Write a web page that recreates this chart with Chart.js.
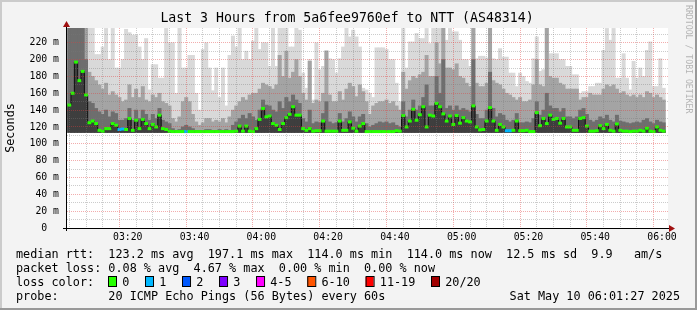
<!DOCTYPE html>
<html>
<head>
<meta charset="utf-8">
<title>Last 3 Hours from 5a6fee9760ef to NTT (AS48314)</title>
<script src="https://cdn.jsdelivr.net/npm/chart.js@4.4.1/dist/chart.umd.min.js"></script>
<style>
  html, body { margin: 0; padding: 0; background: #f3f3f3; }
  #wrap { width: 697px; height: 310px; }
</style>
</head>
<body>
<div id="wrap"><canvas id="smoke" width="697" height="310"></canvas></div>
<script>
// one column per 60s step, first step starts 03:02
const FIRST_MINUTE = 182;
const RANGE_START = 181.8;   // 03:01:48
const RANGE_END = 361.8;
const BASELINE = 113.5;      // fastest ping (ms)

// median rtt per step (ms)
const medianRtt = [
  146, 160, 197, 175, 186, 158, 125, 127, 124, 116,
  115, 118, 118, 124, 122, 117, 117.5, 117, 130, 116,
  128, 118, 129, 124, 118, 123, 120, 134, 118, 117,
  115, 114.5, 114.5, 114.5, 114.5, 114.5, 114.5, 114.5, 114.5, 114.5,
  114.5, 114.5, 114.5, 114.5, 114.5, 114.5, 114.5, 114.5, 114.5, 114.5,
  115, 121, 115, 121, 115, 114.5, 118, 129, 142, 132,
  133, 124, 122, 117, 124, 131, 135, 144, 134, 134,
  118, 116, 118, 115, 115.5, 115.5, 127, 115, 115, 115,
  115, 127, 116, 116, 126, 118.5, 115, 121, 124, 114.5,
  114.5, 114.5, 114.5, 114.5, 114.5, 114.5, 114.5, 114.5, 115.5, 115,
  133.5, 120, 127, 141, 128, 134.5, 144, 120, 134, 133,
  148, 144, 135.5, 127, 133, 123, 133.5, 124.5, 131, 127,
  126, 145, 120, 116.5, 117, 127, 143, 127, 116, 123,
  120, 115.5, 115.5, 116, 127, 115.5, 115.5, 116, 114.5, 114.5,
  137, 121.5, 130, 124, 134, 129, 130, 124.5, 130, 120,
  120, 116, 116, 130, 131, 121, 115, 115, 115.5, 121.5,
  118, 123, 116, 115, 123.5, 116, 115, 115, 114.5, 115,
  115, 116, 115, 118.5, 115, 114.5, 120, 116, 115
];

// smoke: slowest ping per step (ms)
const smokeMax = [
  240, 240, 240, 240, 240, 240, 240, 238, 206, 206,
  215, 237, 200, 237, 190, 190, 200, 236, 232, 229,
  229, 215, 200, 225, 164, 194, 194, 178, 178, 237,
  220, 220, 160, 238, 190, 190, 205, 205, 160, 140,
  212, 220, 190, 163, 190, 155, 190, 145, 205, 228,
  215, 238, 200, 210, 200, 222, 238, 212, 220, 220,
  192, 239, 192, 239, 239, 239, 215, 215, 239, 235,
  184, 166, 200, 152, 220, 188, 192, 211, 201, 200,
  184, 201, 215, 239, 227, 235, 227, 215, 166, 164,
  160, 155, 214, 214, 214, 212, 200, 200, 172, 150,
  237, 190, 221, 221, 231, 225, 225, 237, 219, 237,
  237, 237, 237, 223, 237, 233, 233, 223, 200, 200,
  192, 239, 201, 204, 204, 202, 239, 201, 200, 213,
  203, 203, 184, 184, 168, 184, 180, 174, 172, 201,
  227, 186, 188, 237, 207, 207, 207, 200, 200, 192,
  192, 182, 182, 160, 162, 162, 168, 168, 172, 172,
  211, 237, 223, 237, 178, 178, 207, 178, 164, 198,
  178, 190, 180, 211, 221, 168, 168, 201, 166
];

// smoke: upper band per step (ms)
const smokeHigh = [
  240, 240, 240, 240, 240, 240, 185, 180, 175, 170,
  165, 172, 158, 162, 158, 155, 150, 152, 170, 155,
  165, 155, 168, 152, 150, 158, 155, 160, 150, 148,
  145, 130, 126, 132, 150, 155, 150, 135, 126, 122,
  125, 130, 130, 126, 128, 126, 130, 125, 132, 140,
  145, 150, 155, 152, 158, 160, 160, 165, 172, 170,
  168, 165, 170, 205, 180, 210, 178, 185, 200, 180,
  160, 152, 198, 148, 152, 150, 160, 210, 158, 150,
  150, 162, 152, 165, 172, 168, 156, 170, 162, 150,
  135, 145, 148, 150, 150, 152, 148, 150, 145, 140,
  185, 165, 175, 180, 178, 182, 185, 205, 180, 180,
  220, 195, 238, 190, 190, 188, 195, 180, 178, 172,
  168, 238, 172, 168, 168, 172, 238, 175, 172, 170,
  165, 160, 158, 155, 152, 155, 150, 150, 152, 170,
  200, 170, 168, 238, 180, 178, 178, 172, 170, 165,
  165, 165, 165, 152, 155, 155, 160, 158, 158, 158,
  165, 170, 168, 170, 165, 160, 162, 158, 156, 158,
  155, 158, 155, 162, 160, 155, 158, 155, 152
];

// smoke: dense band around the median (ms)
const smokeMid = [
  240, 240, 240, 240, 240, 200, 150, 148, 142, 138,
  135, 140, 132, 138, 136, 128, 128, 130, 142, 128,
  140, 130, 140, 135, 128, 135, 130, 142, 128, 126,
  124, 118, 116, 117, 120, 122, 120, 118, 116, 116,
  116, 117, 117, 116, 116, 117, 116, 117, 116, 122,
  126, 130, 134, 130, 136, 132, 128, 140, 152, 146,
  145, 140, 138, 150, 142, 155, 150, 158, 152, 148,
  130, 126, 140, 124, 126, 125, 136, 150, 126, 124,
  125, 136, 126, 130, 138, 132, 126, 132, 135, 124,
  120, 122, 124, 126, 125, 126, 124, 125, 122, 120,
  150, 132, 140, 152, 140, 145, 155, 170, 145, 145,
  180, 160, 200, 142, 145, 140, 145, 140, 142, 140,
  138, 200, 135, 130, 130, 140, 185, 142, 132, 136,
  134, 128, 126, 128, 136, 125, 125, 126, 125, 130,
  150, 134, 140, 160, 145, 142, 142, 138, 142, 132,
  132, 130, 132, 140, 142, 135, 128, 126, 128, 132,
  130, 134, 128, 126, 134, 127, 126, 125, 124, 125,
  126, 125, 128, 130, 126, 124, 128, 126, 125
];

// steps that lost 1 of 20 pings
const lossOneSteps = [15, 16, 35, 131, 132];

const xTickLabels = ['03:20', '03:40', '04:00', '04:20', '04:40', '05:00', '05:20', '05:40', '06:00'];
const yTickLabels = ['0', '20 m', '40 m', '60 m', '80 m', '100 m', '120 m', '140 m', '160 m', '180 m', '200 m', '220 m'];

const lossLabels = ['0', '1', '2', '3', '4-5', '6-10', '11-19', '20/20'];
const lossColors = ['#26ff00', '#00b8ff', '#0059ff', '#7e00ff', '#ff00ff', '#ff5500', '#ff0000', '#a10000'];

const MONO = '"DejaVu Sans Mono", "Liberation Mono", monospace';

const stepX = (i) => FIRST_MINUTE + i + 0.5;
const band = (tops) => tops.map((v, i) => ({ x: stepX(i), y: [BASELINE, v] }));
const medianPoints = medianRtt.map((v, i) => ({ x: stepX(i), y: v }));
const markerColors = medianRtt.map((v, i) => lossOneSteps.includes(i) ? lossColors[1] : lossColors[0]);

const toMinute = (s) => { const [h, m] = s.split(':').map(Number); return h * 60 + m; };
const xLabelAt = {};
xTickLabels.forEach(s => { xLabelAt[toMinute(s)] = s; });

const majorGrid = 'rgba(225, 60, 60, 0.42)';
const minorGrid = 'rgba(120, 120, 120, 0.38)';

const rrdFrame = {
  id: 'rrdFrame',
  beforeDraw(chart) {
    const { ctx, chartArea: a, width, height } = chart;
    ctx.save();
    ctx.fillStyle = '#f3f3f3';
    ctx.fillRect(0, 0, width, height);
    // shade: light top/left, dark bottom/right
    ctx.fillStyle = '#cbcbcb';
    ctx.fillRect(0, 0, width, 2);
    ctx.fillRect(0, 0, 2, height);
    ctx.fillStyle = '#999999';
    ctx.fillRect(0, height - 2, width, 2);
    ctx.fillRect(width - 2, 0, 2, height);
    ctx.fillStyle = '#ffffff';
    ctx.fillRect(a.left, a.top, a.right - a.left, a.bottom - a.top);
    ctx.restore();
  },
  afterDraw(chart) {
    const { ctx, chartArea: a } = chart;
    const y0 = chart.scales.y.getPixelForValue(0);
    ctx.save();

    // axes with arrows
    ctx.strokeStyle = '#000';
    ctx.lineWidth = 1;
    ctx.beginPath();
    ctx.moveTo(a.left - 4, y0 + 0.5);
    ctx.lineTo(a.right + 2, y0 + 0.5);
    ctx.moveTo(a.left - 0.5, y0 + 3);
    ctx.lineTo(a.left - 0.5, a.top - 2);
    ctx.stroke();
    ctx.fillStyle = '#a01010';
    ctx.beginPath();
    ctx.moveTo(a.right + 1, y0 - 3);
    ctx.lineTo(a.right + 7, y0 + 0.5);
    ctx.lineTo(a.right + 1, y0 + 4);
    ctx.closePath();
    ctx.fill();
    ctx.beginPath();
    ctx.moveTo(a.left - 4, a.top - 1);
    ctx.lineTo(a.left - 0.5, a.top - 7);
    ctx.lineTo(a.left + 3, a.top - 1);
    ctx.closePath();
    ctx.fill();

    // title
    ctx.fillStyle = '#000';
    ctx.textBaseline = 'middle';
    ctx.textAlign = 'center';
    ctx.font = '13.2px ' + MONO;
    ctx.fillText('Last 3 Hours from 5a6fee9760ef to NTT (AS48314)', 347, 19);

    // watermark
    ctx.save();
    ctx.translate(688, 5);
    ctx.rotate(Math.PI / 2);
    ctx.textAlign = 'left';
    ctx.fillStyle = '#b4b4b4';
    ctx.font = '8.2px ' + MONO;
    ctx.fillText('RRDTOOL / TOBI OETIKER', 0, 0);
    ctx.restore();

    // legend
    ctx.font = '11.8px ' + MONO;
    ctx.textAlign = 'left';
    ctx.fillStyle = '#000';
    const lx = 16;
    ctx.fillText('median rtt:  123.2 ms avg  197.1 ms max  114.0 ms min  114.0 ms now  12.5 ms sd  9.9   am/s', lx, 254.5);
    ctx.fillText('packet loss: 0.08 % avg  4.67 % max  0.00 % min  0.00 % now', lx, 268.5);
    ctx.fillText('loss color:', lx, 282.5);
    ctx.fillText('probe:       20 ICMP Echo Pings (56 Bytes) every 60s', lx, 296.5);
    ctx.textAlign = 'right';
    ctx.fillText('Sat May 10 06:01:27 2025', 680, 296.5);

    ctx.textAlign = 'left';
    const cw = ctx.measureText('0').width;
    let bx = 108;
    lossLabels.forEach((lbl, k) => {
      ctx.fillStyle = lossColors[k];
      ctx.fillRect(bx, 277, 8, 10);
      ctx.strokeStyle = '#000';
      ctx.strokeRect(bx + 0.5, 276.5, 8, 10);
      ctx.fillStyle = '#000';
      ctx.fillText(lbl, bx + 2 * cw, 282.5);
      bx += (lbl.length + 4) * cw + 1.5;
    });

    ctx.restore();
  }
};

const gridColor = (major) => (c) => {
  const v = c.tick ? c.tick.value : 0;
  if (v === 0) return 'rgba(0,0,0,0)';
  return major(v) ? majorGrid : minorGrid;
};

new Chart(document.getElementById('smoke'), {
  type: 'bar',
  data: {
    datasets: [
      { type: 'line', data: medianPoints, showLine: false, pointStyle: 'line', pointRadius: 1.9,
        pointBorderWidth: 3, pointBorderColor: markerColors, pointBackgroundColor: markerColors, order: 1 },
      { type: 'line', data: medianPoints, stepped: 'middle', borderColor: '#111111', borderWidth: 1,
        pointRadius: 0, order: 2 },
      { data: band(medianRtt), backgroundColor: '#3e3e3e', order: 3 },
      { data: band(smokeMid), backgroundColor: '#6e6e6e', order: 4 },
      { data: band(smokeHigh), backgroundColor: '#a4a4a4', order: 5 },
      { data: band(smokeMax), backgroundColor: '#d9d9d9', order: 6 }
    ]
  },
  options: {
    responsive: false,
    animation: false,
    events: [],
    layout: { padding: { left: 0, right: 29, top: 28, bottom: 0 } },
    datasets: {
      bar: { grouped: false, barPercentage: 1, categoryPercentage: 1, borderWidth: 0 }
    },
    plugins: { legend: { display: false }, tooltip: { enabled: false }, title: { display: false } },
    scales: {
      x: {
        type: 'linear',
        min: RANGE_START,
        max: RANGE_END,
        offset: false,
        afterBuildTicks(scale) {
          const ticks = [];
          for (let m = Math.ceil(RANGE_START / 5) * 5; m <= RANGE_END; m += 5) ticks.push({ value: m });
          scale.ticks = ticks;
        },
        afterFit(scale) { scale.height = 82; },
        border: { display: false, dash: [1, 1] },
        grid: { z: 1, drawTicks: false, color: gridColor(v => v % 20 === 0) },
        ticks: {
          autoSkip: false, maxRotation: 0, minRotation: 0, padding: 4, color: '#000',
          font: { family: MONO, size: 9.8 },
          callback: (v) => xLabelAt[v] || ''
        }
      },
      y: {
        min: 0,
        max: 237.5,
        afterBuildTicks(scale) {
          const ticks = [];
          for (let v = 0; v <= 230; v += 10) ticks.push({ value: v });
          scale.ticks = ticks;
        },
        afterFit(scale) { scale.width = 67; },
        border: { display: false, dash: [1, 1] },
        grid: { z: 1, drawTicks: false, color: gridColor(v => v % 20 === 0) },
        title: { display: true, text: 'Seconds', color: '#000', font: { family: MONO, size: 11.8 }, padding: { top: 4, bottom: 0 } },
        ticks: {
          autoSkip: false, padding: 8, color: '#000',
          font: { family: MONO, size: 9.8 },
          callback: (v) => v % 20 !== 0 ? '' : (v === 0 ? yTickLabels[0] + '  ' : yTickLabels[v / 20])
        }
      }
    }
  },
  plugins: [rrdFrame]
});
</script>
</body>
</html>
